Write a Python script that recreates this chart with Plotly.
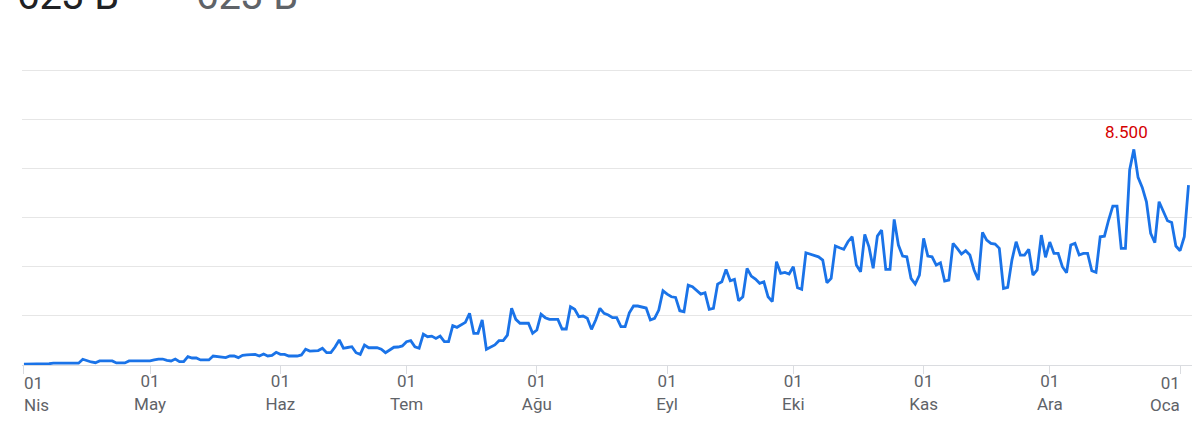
import pandas as pd
import plotly.graph_objects as go

# ---- data ----
start_date = "2021-04-01"
values = [
    30, 30, 30, 30, 30, 30, 50,
    70, 70, 70, 70, 70, 70, 70,
    225, 160, 120, 90, 160, 160, 160,
    160, 80, 80, 80, 160, 160, 160,
    160, 160, 160, 200, 235, 235, 180,
    160, 235, 130, 130, 330, 275, 275,
    200, 200, 200, 355, 330, 290, 290,
    355, 355, 290, 380, 395, 420, 420,
    355, 430, 355, 375, 500, 420, 420,
    355, 355, 355, 395, 620, 550, 550,
    570, 660, 485, 485, 710, 985, 660,
    690, 720, 485, 420, 790, 680, 680,
    680, 620, 485, 590, 700, 710, 750,
    920, 960, 720, 660, 1220, 1115, 1140,
    1050, 1140, 920, 920, 1550, 1485, 1575,
    1680, 2035, 1250, 1250, 1775, 620, 710,
    790, 960, 960, 1180, 2235, 1800, 1645,
    1645, 1645, 1250, 1380, 2000, 1865, 1800,
    1800, 1800, 1420, 1420, 2295, 2195, 1905,
    1930, 1840, 1405, 1775, 2235, 2035, 1970,
    1865, 1865, 1510, 1510, 2060, 2325, 2325,
    2275, 2245, 1775, 1840, 2165, 2925, 2795,
    2690, 2665, 2140, 2100, 3150, 3085, 2955,
    2795, 2850, 2195, 2235, 3190, 3280, 3770,
    3320, 3375, 2535, 2690, 3810, 3505, 3390,
    3220, 3280, 2690, 2495, 4070, 3615, 3650,
    3585, 3875, 3045, 2985, 4425, 4375, 4295,
    4265, 4135, 3245, 3415, 4690, 4620, 4560,
    4860, 5055, 3940, 3675, 5150, 4660, 3810,
    5080, 5320, 3770, 3770, 5740, 4730, 4295,
    4265, 3415, 3190, 3545, 4990, 4295, 4265,
    3940, 4030, 3310, 3350, 4795, 4600, 4375,
    4505, 4335, 3745, 3350, 5230, 4925, 4795,
    4765, 4600, 3020, 3060, 4135, 4860, 4335,
    4335, 4560, 3545, 3745, 5120, 4245, 4845,
    4400, 4400, 3875, 3635, 4730, 4795, 4335,
    4400, 4400, 3715, 3650, 5055, 5080, 5715,
    6265, 6265, 4600, 4600, 7685, 8500, 7395,
    7000, 6435, 5190, 4820, 6435, 6040, 5685,
    5620, 4690, 4505, 5055, 7090,
]
dates = pd.date_range(start_date, periods=len(values), freq="D")

tick_dates = ["2021-04-01", "2021-05-01", "2021-06-01", "2021-07-01", "2021-08-01",
              "2021-09-01", "2021-10-01", "2021-11-01", "2021-12-01", "2022-01-01"]
tick_days = ["01"] * 10
tick_months = ["Nis", "May", "Haz", "Tem", "Ağu", "Eyl", "Eki", "Kas", "Ara", "Oca"]

peak_label = "8.500"
header_values = ["623 B", "623 B"]

# ---- figure ----
FONT = "Roboto, Arial, sans-serif"
peak_idx = values.index(max(values))

fig = go.Figure()
fig.add_trace(go.Scatter(
    x=dates, y=values, mode="lines",
    line=dict(color="#1a73e8", width=2.8),
    hoverinfo="skip", showlegend=False,
))

ticktext = [f"{d}<br>{m}" for d, m in zip(tick_days, tick_months)]
ticktext[0] = ""   # first label drawn left-aligned below
ticktext[-1] = ""  # last label drawn right-aligned below

grid_step = 1938
edge_labels = [
    dict(x=tick_dates[0], y=0, xref="x", yref="paper",
         text=f"{tick_days[0]}<br>{tick_months[0]}", showarrow=False,
         xanchor="left", yanchor="top", align="left", yshift=-6, xshift=-2,
         font=dict(size=17, color="#5f6368", family=FONT)),
    dict(x=tick_dates[-1], y=0, xref="x", yref="paper",
         text=f"{tick_days[-1]}<br>{tick_months[-1]}", showarrow=False,
         xanchor="right", yanchor="top", align="right", yshift=-6, xshift=2,
         font=dict(size=17, color="#5f6368", family=FONT)),
]

fig.update_layout(
    width=1203, height=429,
    margin=dict(l=22, r=11, t=69, b=64),
    paper_bgcolor="white", plot_bgcolor="white",
    font=dict(family=FONT, color="#5f6368"),
    xaxis=dict(
        type="date",
        range=[pd.Timestamp(start_date) - pd.Timedelta(hours=11),
               pd.Timestamp(start_date) + pd.Timedelta(hours=int(277.86 * 24))],
        tickvals=tick_dates, ticktext=ticktext,
        ticks="outside", ticklen=8, tickcolor="#dadce0", tickwidth=1,
        showline=True, linecolor="#dadce0", linewidth=1,
        showgrid=False, zeroline=False,
        tickfont=dict(size=17, color="#5f6368"),
        ticklabelstandoff=-7,
    ),
    yaxis=dict(
        range=[0, grid_step * 6 + 40],
        tickvals=[grid_step * i for i in range(1, 7)],
        showticklabels=False, ticks="",
        showgrid=True, gridcolor="#e6e6e6", gridwidth=1,
        zeroline=False, showline=False,
    ),
    annotations=[
        dict(x=dates[peak_idx], y=values[peak_idx], xref="x", yref="y",
             text=peak_label, showarrow=False, yanchor="bottom",
             xshift=-7, yshift=5,
             font=dict(size=17, color="#d50000", family=FONT)),
        *edge_labels,
        dict(x=-0.006, y=1.25, xref="paper", yref="paper", xanchor="left", yanchor="middle",
             text=header_values[0], showarrow=False,
             font=dict(size=40, color="#202124", family=FONT)),
        dict(x=0.147, y=1.25, xref="paper", yref="paper", xanchor="left", yanchor="middle",
             text=header_values[1], showarrow=False,
             font=dict(size=40, color="#5f6368", family=FONT)),
    ],
)

fig.write_html("out.html", config={"displayModeBar": False},
               post_script="document.body.style.margin='0';")
